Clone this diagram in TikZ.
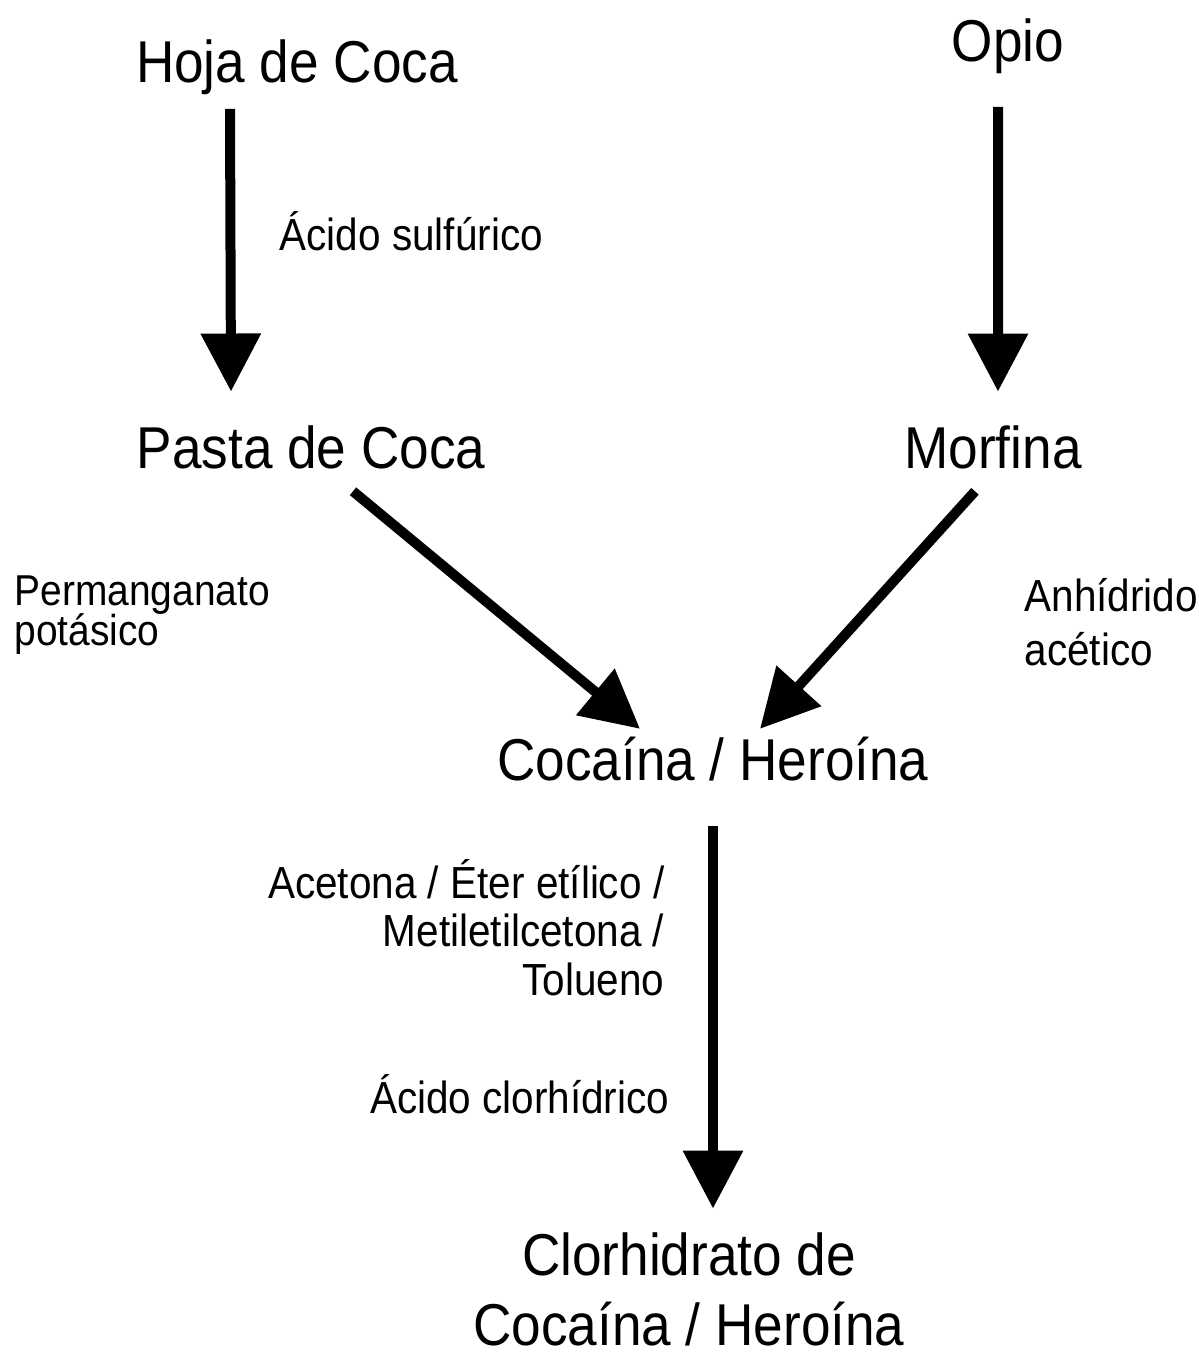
\documentclass[tikz,border=0pt]{standalone}
\usepackage{fontspec}
\setmainfont{Liberation Sans}[FakeStretch=0.9]
\usetikzlibrary{arrows.meta, positioning}
\newcommand{\tightskip}{\lineskiplimit=-20pt\relax}

\begin{document}
\begin{tikzpicture}[
      big/.style={inner sep=0pt, font=\fontsize{16.8}{19.9}\selectfont\tightskip},
      small/.style={inner sep=0pt, font=\fontsize{12.8}{13.7}\selectfont\tightskip},
      arrow/.style={-{Triangle[length=5.8mm, width=5.8mm]}, line width=1mm}
    ]
    \useasboundingbox (0,0) rectangle (11.99,-13.56);

    % Nodes (multi-line ones sit on their last line)
    \node[big, anchor=base] (hoja) at (2.97,-0.82) {Hoja de Coca};
    \node[big, anchor=base] (opio) at (10.08,-0.61) {Opio};
    \node[small, anchor=base west] (sulfurico) at (2.79,-2.50) {Ácido sulfúrico};
    \node[big, anchor=base] (pasta) at (3.11,-4.68) {Pasta de Coca};
    \node[big, anchor=base] (morfina) at (9.93,-4.68) {Morfina};
    \node[small, anchor=base west, align=left, font=\fontsize{12.3}{11.2}\selectfont\tightskip] (permanganato) at (0.14,-6.45) {Permanganato\\potásico};
    \node[small, anchor=base west, align=left, font=\fontsize{12.8}{15.1}\selectfont\tightskip] (anhidrido) at (10.24,-6.65) {Anhídrido\\acético};
    \node[big, anchor=base] (cocaina) at (7.13,-7.80) {Cocaína / Heroína};
    \node[small, anchor=base east, align=right] (acetona) at (6.65,-9.95) {Acetona / Éter etílico /\\Metiletilcetona /\\Tolueno};
    \node[small, anchor=base east] (clorhidrico) at (6.70,-11.13) {Ácido clorhídrico};
    \node[big, anchor=base, align=center] (clorhidrato) at (6.89,-13.45) {Clorhidrato de\\Cocaína / Heroína};

    % Arrows
    \draw[arrow] ([shift={(-0.67,-0.14)}]hoja.south) -- ([shift={(-0.80,0.33)}]pasta.north);
    \draw[arrow] ([shift={(-0.10,-0.33)}]opio.south) -- ([shift={(0.05,0.33)}]morfina.north);
    \draw[arrow] ([shift={(0.42,-0.22)}]pasta.south) -- ([shift={(-0.73,0.07)}]cocaina.north);
    \draw[arrow] ([shift={(-0.18,-0.22)}]morfina.south) -- ([shift={(0.47,0.07)}]cocaina.north);
    \draw[arrow] ([yshift=-0.45cm]cocaina.south) -- ([yshift=0.23cm]cocaina.south |- clorhidrato.north);

    \end{tikzpicture}
\end{document}
